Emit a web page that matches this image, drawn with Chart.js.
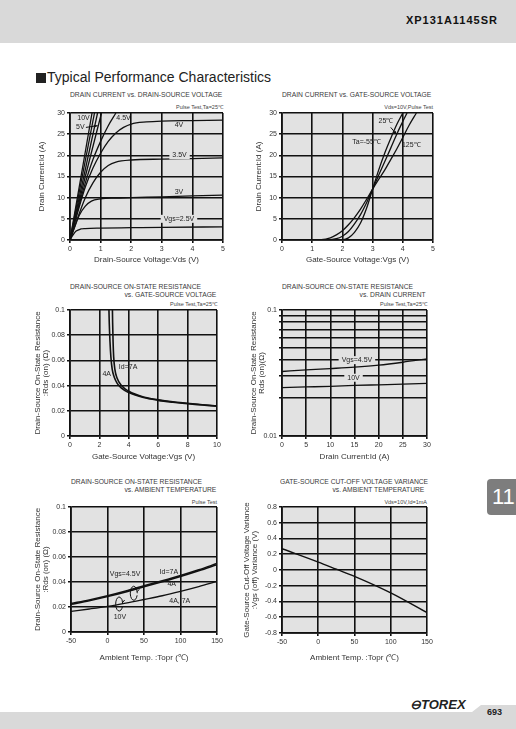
<!DOCTYPE html>
<html>
<head>
<meta charset="utf-8">
<script src="https://cdn.jsdelivr.net/npm/chart.js@4.4.1/dist/chart.umd.min.js"></script>
<style>
  body { margin:0; width:516px; height:729px; position:relative; background:#fff; overflow:hidden;
         font-family:'Liberation Sans',Arial,sans-serif; color:#333; }
  .band-top { position:absolute; left:0; top:0; width:516px; height:43px; background:#d9d9d9; }
  .band-bot { position:absolute; left:0; top:705px; width:516px; height:24px; background:#d9d9d9;
              clip-path:polygon(0 7px, 472px 7px, 481px 0, 516px 0, 516px 24px, 0 24px); }
  .part { position:absolute; right:18px; top:14px; font:bold 11px 'Liberation Sans',Arial,sans-serif; letter-spacing:1px; color:#111; }
  .heading { position:absolute; left:36px; top:69px; font:14px 'Liberation Sans',Arial,sans-serif; color:#222; }
  .heading i { display:inline-block; width:10px; height:10px; background:#222; margin-right:1px; vertical-align:-1px; }
  .tab { position:absolute; left:487px; top:479px; width:40px; height:36px; background:#7d7d7d; border-radius:4px;
         color:#fff; font:22px 'Liberation Sans Narrow','Liberation Sans',Arial,sans-serif; line-height:36px; padding-left:5px; box-sizing:border-box; }
  .logo { position:absolute; left:410px; top:697px; font:bold italic 13px 'Liberation Sans',Arial,sans-serif; color:#222; }
  .page { position:absolute; left:487px; top:707px; font:bold 9px 'Liberation Sans',Arial,sans-serif; color:#222; }
  .t { position:absolute; white-space:nowrap; font-size:8px; line-height:8px; color:#3a3a3a; font-weight:normal;
       transform:scaleX(0.84); transform-origin:left center; }
  .t.r { transform-origin:right center; }
  .n { position:absolute; white-space:nowrap; font-size:5.5px; line-height:6px; color:#444; }
  canvas { position:absolute; }
</style>
</head>
<body>
<div class="band-top"></div>
<div class="part">XP131A1145SR</div>
<div class="heading"><i></i>Typical Performance Characteristics</div>

<div class="t" style="left:70px;top:91px">DRAIN CURRENT vs. DRAIN-SOURCE VOLTAGE</div>
<div class="n" style="right:293px;top:104px">Pulse Test,Ta=25℃</div>
<div class="t" style="left:282px;top:91px">DRAIN CURRENT vs. GATE-SOURCE VOLTAGE</div>
<div class="n" style="right:83px;top:104px">Vds=10V,Pulse Test</div>

<div class="t" style="left:70px;top:283px">DRAIN-SOURCE ON-STATE RESISTANCE</div>
<div class="t r" style="right:300px;top:291px">vs. GATE-SOURCE VOLTAGE</div>
<div class="n" style="right:299px;top:301px">Pulse Test,Ta=25℃</div>
<div class="t" style="left:282px;top:283px">DRAIN-SOURCE ON-STATE RESISTANCE</div>
<div class="t r" style="right:90px;top:291px">vs. DRAIN CURRENT</div>
<div class="n" style="right:89px;top:301px">Pulse Test,Ta=25℃</div>

<div class="t" style="left:71px;top:478px">DRAIN-SOURCE ON-STATE RESISTANCE</div>
<div class="t r" style="right:300px;top:486px">vs. AMBIENT TEMPERATURE</div>
<div class="n" style="right:299px;top:499px">Pulse Test</div>
<div class="t" style="left:280px;top:478px">GATE-SOURCE CUT-OFF VOLTAGE VARIANCE</div>
<div class="t r" style="right:92px;top:486px">vs. AMBIENT TEMPERATURE</div>
<div class="n" style="right:89px;top:499px">Vds=10V,Id=1mA</div>

<canvas id="c1"></canvas>
<canvas id="c2"></canvas>
<canvas id="c3"></canvas>
<canvas id="c4"></canvas>
<canvas id="c5"></canvas>
<canvas id="c6"></canvas>

<div class="tab">11</div>
<div class="band-bot"></div>
<div class="logo">⊖TOREX</div>
<div class="page">693</div>

<script>
// ---- chart 1: Id vs Vds ----
const vdsTicks = [0, 1, 2, 3, 4, 5];
const idTicks = [0, 5, 10, 15, 20, 25, 30];
const vgs10Vds = [0, 0.72];             const vgs10Id = [0, 30];
const vgs8Vds = [0, 0.8];               const vgs8Id = [0, 30];
const vgs6Vds = [0, 0.9];               const vgs6Id = [0, 30];
const vgs5Vds = [0, 0.5, 1.03];         const vgs5Id = [0, 15, 30];
const vgs45Vds = [0, 0.25, 0.5, 0.75, 1, 1.25, 1.5];
const vgs45Id = [0, 7, 13.5, 19, 23.3, 27, 30];
const vgs4Vds = [0, 0.25, 0.5, 0.75, 1, 1.25, 1.5, 1.75, 2, 2.5, 3, 4, 5];
const vgs4Id = [0, 6.5, 12.5, 17, 20.5, 23.3, 25.3, 26.6, 27.4, 27.9, 28.1, 28.2, 28.3];
const vgs35Vds = [0, 0.25, 0.5, 0.75, 1, 1.25, 1.5, 2, 3, 4, 5];
const vgs35Id = [0, 5.2, 10, 13.5, 16, 17.6, 18.4, 18.9, 19.1, 19.2, 19.4];
const vgs3Vds = [0, 0.15, 0.3, 0.5, 0.7, 1, 1.5, 2, 3, 4, 5];
const vgs3Id = [0, 3, 5.8, 8, 9.2, 9.7, 9.9, 10, 10.2, 10.4, 10.6];
const vgs25Vds = [0, 0.1, 0.2, 0.35, 0.5, 1, 2, 3, 5];
const vgs25Id = [0, 1.2, 2.1, 2.6, 2.7, 2.8, 2.9, 3, 3.1];

// ---- chart 2: Id vs Vgs ----
const vgsTicks = [0, 1, 2, 3, 4, 5];
const tm55Vgs = [0, 1.5, 2, 2.2, 2.4, 2.6, 2.8, 3, 3.2, 3.4, 3.6, 3.8, 4.0];
const tm55Id = [0, 0, 0.05, 0.5, 1.8, 4, 7.5, 12, 16.5, 20.5, 24, 27.3, 30];
const t25Vgs = [0, 1.5, 1.8, 2, 2.2, 2.4, 2.6, 2.8, 3, 3.2, 3.4, 3.6, 3.8, 4.0, 4.14];
const t25Id = [0, 0.05, 0.3, 0.9, 2, 3.8, 6, 8.8, 12, 15.3, 18.5, 21.7, 25, 28, 30];
const t125Vgs = [0, 1.3, 1.6, 1.8, 2, 2.2, 2.4, 2.6, 2.8, 3, 3.2, 3.4, 3.6, 3.8, 4, 4.2, 4.45];
const t125Id = [0, 0.1, 0.5, 1.2, 2.2, 3.6, 5.3, 7.3, 9.6, 12, 14.3, 16.5, 19, 21.5, 24.2, 27, 30];

// ---- chart 3: Rds(on) vs Vgs ----
const vgs10Ticks = [0, 2, 4, 6, 8, 10];
const rdsTicks = [0, 0.02, 0.04, 0.06, 0.08, 0.1];
const rdsTickLabels = ['0', '0.02', '0.04', '0.06', '0.08', '0.1'];
const id7Vgs = [2.88, 2.9, 2.93, 2.97, 3.05, 3.2, 3.5, 4, 5, 6, 7, 8, 9, 10];
const id7Rds = [0.105, 0.09, 0.075, 0.063, 0.053, 0.046, 0.040, 0.0355, 0.031, 0.0288, 0.0272, 0.026, 0.0248, 0.024];
const id4Vgs = [2.64, 2.67, 2.72, 2.78, 2.87, 3, 3.2, 3.5, 4, 5, 6, 7, 8, 9, 10];
const id4Rds = [0.105, 0.09, 0.075, 0.063, 0.053, 0.047, 0.042, 0.038, 0.0345, 0.0305, 0.0283, 0.0268, 0.0256, 0.0246, 0.0236];

// ---- chart 4: Rds(on) vs Id (log) ----
const idAxisTicks = [0, 5, 10, 15, 20, 25, 30];
const logTicks = [0.01, 0.02, 0.03, 0.04, 0.05, 0.06, 0.07, 0.08, 0.09, 0.1];
const logTickLabels = ['0.01', '', '', '', '', '', '', '', '', '0.1'];
const drainId = [0, 5, 10, 15, 20, 25, 30];
const rdsVgs45 = [0.0325, 0.0335, 0.0343, 0.0352, 0.0365, 0.0385, 0.041];
const rdsVgs10 = [0.0242, 0.0245, 0.0248, 0.0252, 0.0255, 0.0258, 0.0262];

// ---- chart 5: Rds(on) vs Ta ----
const taTicks = [-50, 0, 50, 100, 150];
const ta = [-50, -25, 0, 25, 50, 75, 100, 125, 150];
const rdsTa45_7A = [0.0228, 0.0257, 0.029, 0.0328, 0.037, 0.041, 0.0452, 0.0498, 0.0548];
const rdsTa45_4A = [0.0221, 0.025, 0.0283, 0.032, 0.0362, 0.0402, 0.0444, 0.049, 0.0539];
const rdsTa10 = [0.0165, 0.0184, 0.0205, 0.0231, 0.026, 0.029, 0.0325, 0.0363, 0.0405];

// ---- chart 6: Vgs(off) variance vs Ta ----
const varTicks = [-0.8, -0.6, -0.4, -0.2, 0, 0.2, 0.4, 0.6, 0.8];
const varTickLabels = ['-0.8', '-0.6', '-0.4', '-0.2', '0', '0.2', '0.4', '0.6', '0.8'];
const ta6 = [-50, 0, 25, 50, 100, 150];
const vgsOffVar = [0.27, 0.1, 0.01, -0.08, -0.29, -0.54];

const FONT = "'Liberation Sans Narrow','Liberation Sans',Arial,sans-serif";
const PLOT_BG = '#e2e2e2';
const INK = '#111';
Chart.defaults.font.family = FONT;
Chart.defaults.color = '#333';

const pts = (xs, ys) => xs.map((x, i) => ({x: x, y: ys[i]}));
const line = (xs, ys, w) => ({data: pts(xs, ys), borderColor: INK, borderWidth: w || 1.3,
  pointRadius: 0, showLine: true, cubicInterpolationMode: 'monotone', fill: false});

const plotBg = {
  id: 'plotBg',
  beforeDraw(chart) {
    const {ctx, chartArea: a} = chart;
    ctx.save();
    ctx.fillStyle = PLOT_BG;
    ctx.fillRect(a.left, a.top, a.right - a.left, a.bottom - a.top);
    ctx.restore();
  }
};

// in-plot labels, arrows and ellipses placed in data coordinates
function notes(items) {
  return {
    id: 'notes',
    afterDatasetsDraw(chart) {
      const {ctx} = chart;
      const sx = chart.scales.x, sy = chart.scales.y;
      ctx.save();
      ctx.font = '7px ' + FONT;
      ctx.textAlign = 'center';
      ctx.textBaseline = 'middle';
      ctx.strokeStyle = INK;
      ctx.lineWidth = 1;
      for (const n of items) {
        if (n.arrow) {
          const x1 = sx.getPixelForValue(n.arrow[0]), y1 = sy.getPixelForValue(n.arrow[1]);
          const x2 = sx.getPixelForValue(n.arrow[2]), y2 = sy.getPixelForValue(n.arrow[3]);
          const ang = Math.atan2(y2 - y1, x2 - x1);
          ctx.beginPath(); ctx.moveTo(x1, y1); ctx.lineTo(x2, y2); ctx.stroke();
          ctx.beginPath();
          ctx.moveTo(x2, y2);
          ctx.lineTo(x2 - 4 * Math.cos(ang - 0.4), y2 - 4 * Math.sin(ang - 0.4));
          ctx.lineTo(x2 - 4 * Math.cos(ang + 0.4), y2 - 4 * Math.sin(ang + 0.4));
          ctx.closePath(); ctx.fillStyle = INK; ctx.fill();
        }
        if (n.ellipse) {
          const ex = sx.getPixelForValue(n.ellipse[0]), ey = sy.getPixelForValue(n.ellipse[1]);
          ctx.beginPath(); ctx.ellipse(ex, ey, 3.5, 7, 0, 0.3, Math.PI * 2); ctx.stroke();
          ctx.beginPath(); ctx.moveTo(ex + 3.4, ey - 1.5); ctx.lineTo(ex + 5.5, ey - 4); ctx.stroke();
        }
        if (n.text) {
          const px = sx.getPixelForValue(n.x), py = sy.getPixelForValue(n.y);
          if (n.gap) {
            const w = ctx.measureText(n.text).width + 6;
            ctx.fillStyle = PLOT_BG;
            ctx.fillRect(px - w / 2, py - 4, w, 8);
          }
          ctx.fillStyle = '#222';
          ctx.fillText(n.text, px, py);
        }
      }
      ctx.restore();
    }
  };
}

function axis(spec, fitSize, isX) {
  const o = {
    type: spec.type || 'linear',
    min: spec.ticks[0],
    max: spec.ticks[spec.ticks.length - 1],
    afterBuildTicks: s => { s.ticks = spec.ticks.map(v => ({value: v})); },
    ticks: {font: {size: 7}, padding: 2, color: '#333', maxRotation: 0, autoSkip: false,
            callback: (v, i) => spec.labels ? spec.labels[i] : String(spec.ticks[i])},
    grid: {color: INK, lineWidth: 1.6, tickLength: 3, tickColor: INK, drawTicks: true},
    border: {color: INK, width: 1.7},
    title: {display: true, text: spec.title, color: '#333', padding: 0,
            font: {size: 8, lineHeight: 1}}
  };
  o.afterFit = isX ? (s => { s.height = fitSize; }) : (s => { s.width = fitSize; });
  return o;
}

// box: plot rectangle on the page + where axis titles sit
function build(id, box, xSpec, ySpec, datasets, items) {
  const T = 8, R = 10, lh = 8;
  const L = box.pl - (box.yTitleX - lh / 2);
  const B = (box.xTitleY + lh / 2) - box.pb;
  const cv = document.getElementById(id);
  cv.width = box.pr - box.pl + L + R;
  cv.height = box.pb - box.pt + T + B;
  cv.style.left = (box.pl - L) + 'px';
  cv.style.top = (box.pt - T) + 'px';
  return new Chart(cv.getContext('2d'), {
    type: 'scatter',
    data: {datasets: datasets},
    options: {
      responsive: false,
      animation: false,
      layout: {padding: {left: 0, top: T, right: R, bottom: 0}},
      plugins: {legend: {display: false}, tooltip: {enabled: false}},
      scales: {x: axis(xSpec, B, true), y: axis(ySpec, L, false)}
    },
    plugins: [plotBg, notes(items || [])]
  });
}

build('c1', {pl: 70, pt: 113, pr: 223, pb: 240, yTitleX: 42, xTitleY: 260},
  {ticks: vdsTicks, title: 'Drain-Source Voltage:Vds (V)'},
  {ticks: idTicks, title: 'Drain Current:Id (A)'},
  [line(vgs10Vds, vgs10Id), line(vgs8Vds, vgs8Id), line(vgs6Vds, vgs6Id), line(vgs5Vds, vgs5Id),
   line(vgs45Vds, vgs45Id), line(vgs4Vds, vgs4Id), line(vgs35Vds, vgs35Id),
   line(vgs3Vds, vgs3Id), line(vgs25Vds, vgs25Id)],
  [{text: '10V', x: 0.44, y: 28.8}, {text: '5V', x: 0.34, y: 26.6, arrow: [0.52, 26.6, 0.9, 27]},
   {text: '4.5V', x: 1.75, y: 28.8}, {text: '4V', x: 3.56, y: 27.2},
   {text: '3.5V', x: 3.58, y: 20, gap: true}, {text: '3V', x: 3.56, y: 11.3},
   {text: 'Vgs=2.5V', x: 3.56, y: 5, gap: true}]);

build('c2', {pl: 282, pt: 113, pr: 433, pb: 240, yTitleX: 259, xTitleY: 260},
  {ticks: vgsTicks, title: 'Gate-Source Voltage:Vgs (V)'},
  {ticks: idTicks, title: 'Drain Current:Id (A)'},
  [line(tm55Vgs, tm55Id), line(t25Vgs, t25Id), line(t125Vgs, t125Id)],
  [{text: '25℃', x: 3.44, y: 28.1, arrow: [3.6, 26.6, 3.8, 24.9]},
   {text: 'Ta=-55℃', x: 2.8, y: 23.2}, {text: '125℃', x: 4.28, y: 22.4}]);

build('c3', {pl: 70, pt: 310, pr: 217, pb: 436, yTitleX: 38, xTitleY: 457},
  {ticks: vgs10Ticks, title: 'Gate-Source Voltage:Vgs (V)'},
  {ticks: rdsTicks, labels: rdsTickLabels, title: ['Drain-Source On-State Resistance', ':Rds (on) (Ω)']},
  [line(id7Vgs, id7Rds, 1.6), line(id4Vgs, id4Rds, 1.6)],
  [{text: 'Id=7A', x: 3.95, y: 0.0548}, {text: '4A', x: 2.5, y: 0.049}]);

build('c4', {pl: 282, pt: 310, pr: 427, pb: 436, yTitleX: 254, xTitleY: 457},
  {ticks: idAxisTicks, title: 'Drain Current:Id (A)'},
  {type: 'logarithmic', ticks: logTicks, labels: logTickLabels,
   title: ['Drain-Source On-State Resistance', 'Rds (on)(Ω)']},
  [line(drainId, rdsVgs45), line(drainId, rdsVgs10)],
  [{text: 'Vgs=4.5V', x: 15.5, y: 0.04, gap: true}, {text: '10V', x: 14.8, y: 0.029, gap: true}]);

build('c5', {pl: 71, pt: 507, pr: 217, pb: 632, yTitleX: 38, xTitleY: 658},
  {ticks: taTicks, title: 'Ambient Temp. :Topr (℃)'},
  {ticks: rdsTicks, labels: rdsTickLabels, title: ['Drain-Source On-State Resistance', ':Rds (on) (Ω)']},
  [line(ta, rdsTa45_7A, 1.5), line(ta, rdsTa45_4A, 1.5), line(ta, rdsTa10, 1.3)],
  [{text: 'Vgs=4.5V', x: 24, y: 0.0464}, {text: 'Id=7A', x: 84, y: 0.048},
   {text: '4A', x: 88, y: 0.0384}, {text: '4A, 7A', x: 99, y: 0.0248}, {text: '10V', x: 17, y: 0.012},
   {ellipse: [36, 0.031]}, {ellipse: [16, 0.0224]}]);

build('c6', {pl: 282, pt: 507, pr: 427, pb: 633, yTitleX: 247, xTitleY: 658},
  {ticks: taTicks, title: 'Ambient Temp. :Topr (℃)'},
  {ticks: varTicks, labels: varTickLabels,
   title: ['Gate-Source Cut-Off Voltage Variance', ':Vgs (off) Variance (V)']},
  [line(ta6, vgsOffVar, 1.4)]);
</script>
</body>
</html>
